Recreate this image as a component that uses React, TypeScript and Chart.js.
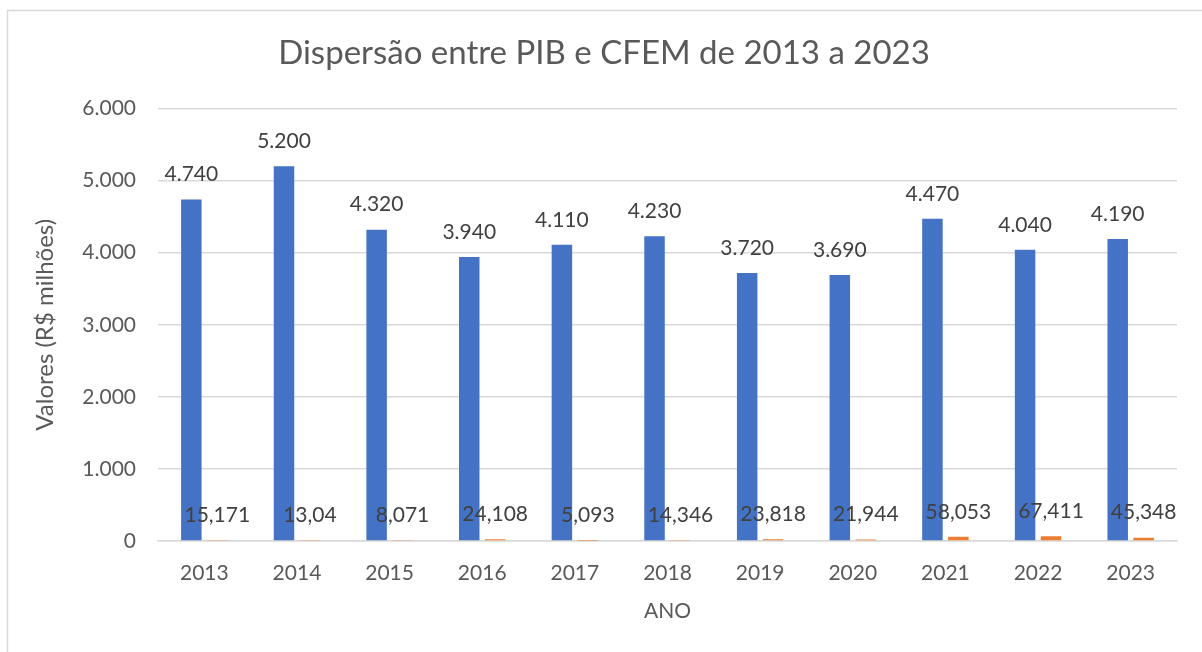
import React, { useEffect, useRef } from "react";
import { Chart, registerables } from "chart.js";

Chart.register(...registerables);

const years = ["2013", "2014", "2015", "2016", "2017", "2018", "2019", "2020", "2021", "2022", "2023"];
const pib = [4740, 5200, 4320, 3940, 4110, 4230, 3720, 3690, 4470, 4040, 4190];
const cfem = [15.171, 13.04, 8.071, 24.108, 5.093, 14.346, 23.818, 21.944, 58.053, 67.411, 45.348];
const yTicks = [0, 1000, 2000, 3000, 4000, 5000, 6000];

const FONT = "Lato, 'Open Sans', sans-serif";
const TEXT = "#595959";

function fmtThousands(v: number): string {
  return String(Math.round(v)).replace(/\B(?=(\d{3})+(?!\d))/g, ".");
}
function fmtDecimal(v: number): string {
  return String(v).replace(".", ",");
}

const labelPlugin = {
  id: "barLabels",
  afterDatasetsDraw(chart: any) {
    const ctx = chart.ctx;
    ctx.save();
    ctx.font = `21px ${FONT}`;
    ctx.fillStyle = "#404040";
    ctx.textAlign = "center";
    ctx.textBaseline = "middle";
    chart.data.datasets.forEach((ds: any, di: number) => {
      const meta = chart.getDatasetMeta(di);
      meta.data.forEach((bar: any, i: number) => {
        const v = ds.data[i];
        const txt = di === 0 ? fmtThousands(v) : fmtDecimal(v);
        ctx.fillText(txt, bar.x, bar.y - 25);
      });
    });
    ctx.restore();
  },
};

const framePlugin = {
  id: "frame",
  beforeDraw(chart: any) {
    const ctx = chart.ctx;
    ctx.save();
    ctx.fillStyle = "#ffffff";
    ctx.fillRect(0, 0, chart.width, chart.height);
    ctx.strokeStyle = "#d9d9d9";
    ctx.lineWidth = 1.5;
    ctx.beginPath();
    ctx.moveTo(7.5, chart.height + 5);
    ctx.lineTo(7.5, 10.5);
    ctx.lineTo(chart.width + 5, 10.5);
    ctx.stroke();
    ctx.restore();
  },
};

export default function App() {
  const ref = useRef<HTMLCanvasElement>(null);
  useEffect(() => {
    if (!ref.current) return;
    const chart = new Chart(ref.current, {
      type: "bar",
      data: {
        labels: years,
        datasets: [
          { label: "PIB", data: pib, backgroundColor: "#4472C4", categoryPercentage: 0.56, barPercentage: 0.79 },
          { label: "CFEM", data: cfem, backgroundColor: "#ED7D31", categoryPercentage: 0.56, barPercentage: 0.79 },
        ],
      },
      options: {
        animation: false,
        responsive: false,
        maintainAspectRatio: false,
        layout: { padding: { left: 31, right: 25, top: 11, bottom: 28 } },
        plugins: {
          legend: { display: false },
          tooltip: { enabled: false },
          title: {
            display: true,
            text: "Dispersão entre PIB e CFEM de 2013 a 2023",
            color: TEXT,
            font: { family: FONT, size: 33, weight: "normal" },
            padding: { top: 23, bottom: 35 },
          },
        },
        scales: {
          x: {
            grid: { display: false },
            border: { color: "#d9d9d9", width: 1.5 },
            afterFit(scale: any) {
              scale.height = 83;
            },
            ticks: { color: TEXT, font: { family: FONT, size: 21 }, padding: 12 },
            title: {
              display: true,
              text: "ANO",
              color: TEXT,
              font: { family: FONT, size: 21 },
              padding: { top: 11, bottom: 0 },
            },
          },
          y: {
            min: 0,
            max: 6000,
            afterBuildTicks(scale: any) {
              scale.ticks = yTicks.map((v) => ({ value: v }));
            },
            afterFit(scale: any) {
              scale.width = 158 - 31;
            },
            grid: { color: "#d9d9d9", lineWidth: 1.5, drawTicks: false },
            border: { display: false },
            ticks: {
              color: TEXT,
              font: { family: FONT, size: 21 },
              padding: 22,
              callback: (v: any) => fmtThousands(Number(v)),
            },
            title: {
              display: true,
              text: "Valores (R$ milhões)",
              color: TEXT,
              font: { family: FONT, size: 24 },
              padding: { top: 0, bottom: 0 },
            },
          },
        },
      },
      plugins: [framePlugin, labelPlugin],
    });
    return () => chart.destroy();
  }, []);
  return (
    <div style={{ position: "fixed", left: 0, top: 0, width: 1202, height: 652, background: "#fff" }}>
      <canvas ref={ref} width={1202} height={652} style={{ width: 1202, height: 652, display: "block" }} />
    </div>
  );
}
